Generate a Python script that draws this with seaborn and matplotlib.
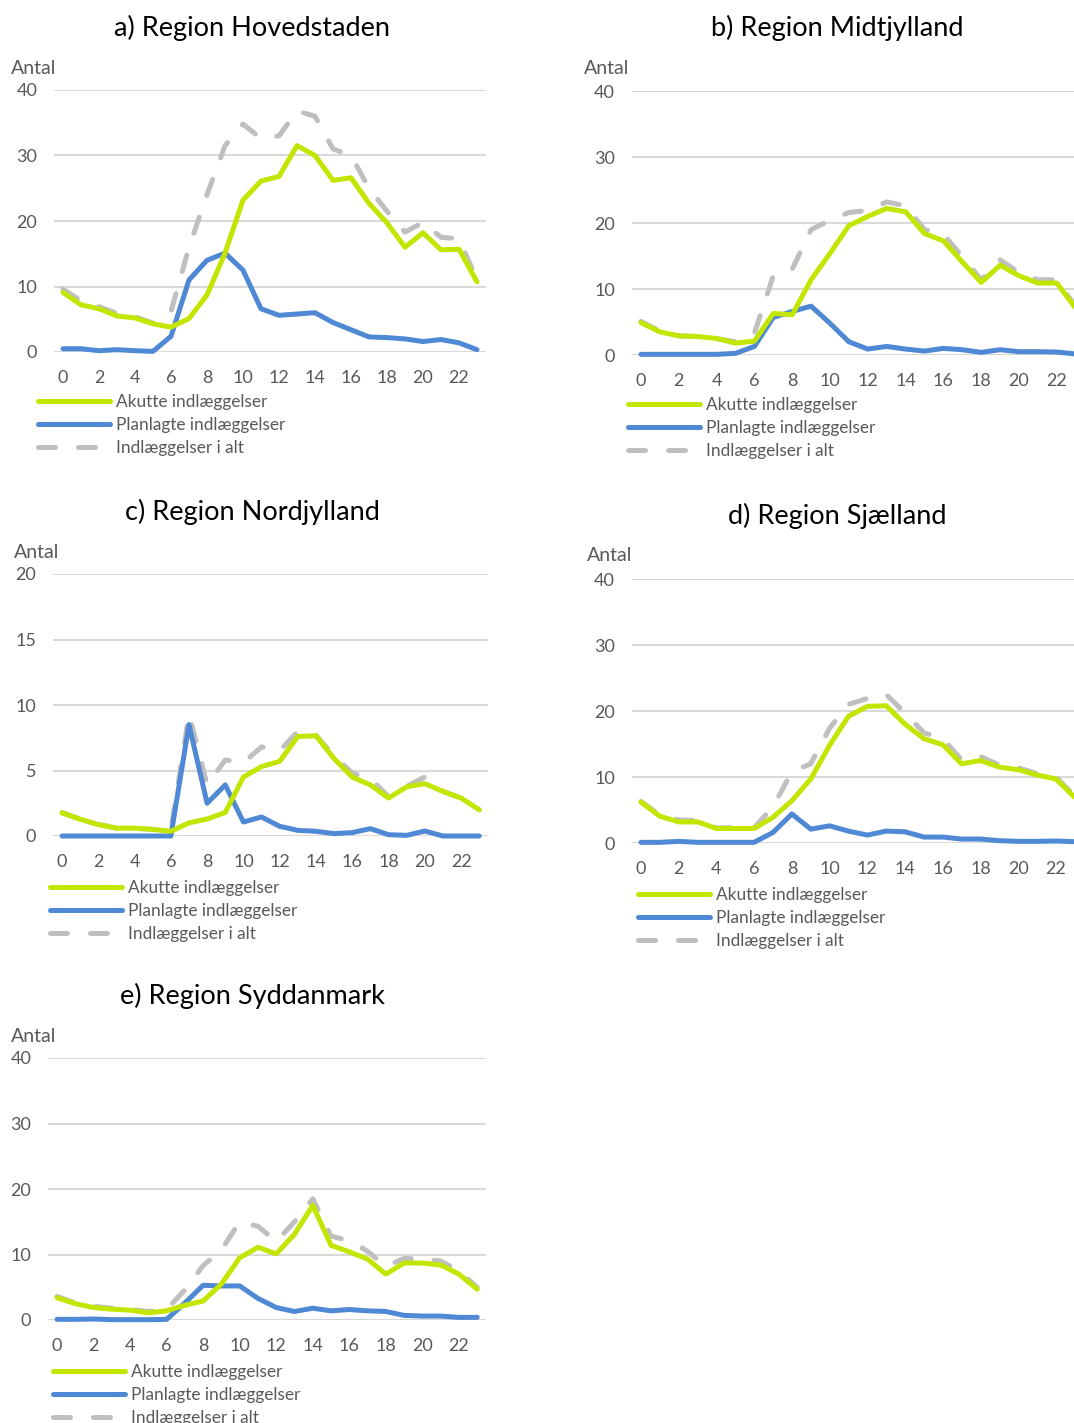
import numpy as np
import pandas as pd
import matplotlib
matplotlib.use("Agg")
import matplotlib.pyplot as plt
import seaborn as sns
from matplotlib.lines import Line2D

sns.set_theme(style="white")
plt.rcParams['font.family'] = ['Lato', 'DejaVu Sans']

hours = list(range(24))
hour_ticks = list(range(0, 23, 2))

series_names = ["Akutte indlæggelser", "Planlagte indlæggelser", "Indlæggelser i alt"]

titles = ["a) Region Hovedstaden", "b) Region Midtjylland", "c) Region Nordjylland",
          "d) Region Sjælland", "e) Region Syddanmark"]

# a) Hovedstaden
akut_a = [9.1, 7.2, 6.6, 5.5, 5.2, 4.3, 3.8, 5.1, 8.7, 15.1, 23.2, 26.1, 26.8, 31.5, 30.0, 26.2,
          26.6, 22.7, 19.7, 16.0, 18.2, 15.6, 15.7, 10.7]
plan_a = [0.5, 0.5, 0.2, 0.35, 0.2, 0.1, 2.4, 11.0, 14.0, 15.1, 12.5, 6.6, 5.6, 5.8, 6.0, 4.5,
          3.4, 2.3, 2.2, 2.0, 1.6, 1.9, 1.4, 0.35]
alt_a = [9.6, 7.8, 6.9, 5.9, 5.4, 4.4, 6.2, 16.0, 24.0, 31.5, 34.8, 32.6, 33.0, 36.8, 36.0, 31.0,
         30.0, 25.0, 21.5, 18.3, 19.8, 17.5, 17.3, 11.0]

# b) Midtjylland
akut_b = [4.9, 3.5, 2.9, 2.8, 2.5, 1.8, 2.1, 6.3, 6.1, 11.4, 15.4, 19.6, 21.0, 22.2, 21.7, 18.4,
          17.3, 14.1, 11.0, 13.6, 12.0, 10.9, 10.9, 7.1]
plan_b = [0.1, 0.1, 0.1, 0.1, 0.1, 0.25, 1.3, 5.7, 6.6, 7.4, 4.8, 2.0, 0.9, 1.3, 0.9, 0.6,
          1.0, 0.8, 0.4, 0.8, 0.5, 0.5, 0.45, 0.15]
alt_b = [5.1, 3.6, 2.9, 2.8, 2.5, 2.0, 3.3, 12.0, 13.0, 19.0, 20.4, 21.6, 21.9, 23.2, 22.6, 19.0,
         18.3, 14.9, 11.4, 14.4, 12.5, 11.4, 11.4, 7.3]

# c) Nordjylland
akut_c = [1.76, 1.28, 0.87, 0.6, 0.6, 0.5, 0.36, 1.0, 1.3, 1.8, 4.5, 5.3, 5.7, 7.6, 7.65, 5.9,
          4.5, 3.9, 2.9, 3.75, 4.0, 3.4, 2.9, 2.0]
plan_c = [0, 0, 0, 0, 0, 0, 0, 8.5, 2.5, 3.9, 1.07, 1.45, 0.74, 0.43, 0.36, 0.18,
          0.26, 0.56, 0.1, 0.05, 0.38, 0, 0, 0]
alt_c = [1.8, 1.3, 0.9, 0.6, 0.6, 0.5, 0.4, 9.3, 3.9, 5.8, 5.6, 6.8, 6.5, 8.0, 7.7, 6.1,
         4.8, 4.4, 3.0, 3.8, 4.5, 3.4, 2.9, 2.0]

# d) Sjælland
akut_d = [6.2, 4.05, 3.2, 3.2, 2.2, 2.2, 2.2, 3.9, 6.4, 9.7, 14.8, 19.2, 20.7, 20.8, 18.0, 15.8,
          14.9, 12.0, 12.5, 11.5, 11.1, 10.3, 9.7, 6.9]
plan_d = [0.1, 0.1, 0.25, 0.1, 0.1, 0.1, 0.1, 1.6, 4.4, 2.1, 2.6, 1.8, 1.2, 1.8, 1.7, 0.9,
          0.9, 0.6, 0.6, 0.35, 0.25, 0.25, 0.3, 0.2]
alt_d = [6.3, 4.2, 3.5, 3.4, 2.3, 2.3, 2.3, 5.5, 10.8, 12.0, 17.4, 21.0, 21.9, 22.5, 19.7, 16.7,
         15.8, 12.6, 13.1, 11.8, 11.4, 10.5, 10.0, 7.1]

# e) Syddanmark
akut_e = [3.4, 2.5, 1.9, 1.65, 1.5, 1.1, 1.4, 2.25, 2.9, 5.5, 9.5, 11.1, 10.1, 13.1, 17.5, 11.4,
          10.4, 9.3, 7.0, 8.7, 8.7, 8.4, 7.0, 4.7]
plan_e = [0.1, 0.1, 0.15, 0.05, 0.05, 0.05, 0.1, 2.6, 5.3, 5.2, 5.2, 3.3, 1.9, 1.3, 1.8, 1.4,
          1.6, 1.4, 1.3, 0.7, 0.6, 0.6, 0.4, 0.4]
alt_e = [3.6, 2.6, 2.1, 1.8, 1.6, 1.3, 1.6, 4.6, 8.3, 10.7, 15.0, 14.3, 12.0, 15.0, 18.5, 12.8,
         12.1, 10.5, 8.2, 9.4, 9.3, 9.0, 7.5, 5.0]

panel_data = [(akut_a, plan_a, alt_a), (akut_b, plan_b, alt_b), (akut_c, plan_c, alt_c),
              (akut_d, plan_d, alt_d), (akut_e, plan_e, alt_e)]
y_max = [40, 40, 20, 40, 40]
y_step = [10, 10, 5, 10, 10]

# ---- layout (pixels) ----
W, H = 1074, 1423
# (x of hour 0, px per hour, y pixel of 0, y pixel of ymax)
geo = [(63, 18.0, 352, 90), (641, 18.9, 355, 91), (62, 18.14, 836, 574),
       (641, 18.86, 843, 579), (57, 18.27, 1320, 1058)]
title_pos = [(252, 28), (837, 28), (252, 512), (837, 516), (252, 996)]
antal_pos = [(11, 68), (584, 69), (14, 553), (587, 556), (11, 1037)]
legend_pos = [(38, 394), (628, 397), (50, 880), (638, 887), (53, 1364)]

GREEN = "#C3E500"
BLUE = "#4F88D4"
GREY = "#BFBFBF"
TXT = "#595959"

fig = plt.figure(figsize=(W / 100, H / 100), dpi=100)

for i in range(5):
    x0, pph, y0p, ytp = geo[i]
    left = x0 - 0.5 * pph
    right = x0 + 23.5 * pph
    ax = fig.add_axes([left / W, 1 - y0p / H, (right - left) / W, (y0p - ytp) / H])
    akut, plan, alt = panel_data[i]
    df = pd.DataFrame({"time": hours, "akut": akut, "plan": plan, "alt": alt})
    sns.lineplot(data=df, x="time", y="alt", ax=ax, color=GREY, lw=3.6,
                 linestyle=(0, (3.4, 4.6)), dash_capstyle="round", clip_on=False, zorder=3)
    sns.lineplot(data=df, x="time", y="plan", ax=ax, color=BLUE, lw=3.6,
                 solid_capstyle="round", clip_on=False, zorder=4)
    sns.lineplot(data=df, x="time", y="akut", ax=ax, color=GREEN, lw=3.6,
                 solid_capstyle="round", clip_on=False, zorder=5)
    ax.set_xlim(-0.5, 23.5)
    ax.set_ylim(0, y_max[i])
    ax.set_xticks(hour_ticks)
    ax.set_yticks(np.arange(0, y_max[i] + 0.1, y_step[i]))
    ax.set_xlabel("")
    ax.set_ylabel("")
    for s in ax.spines.values():
        s.set_visible(False)
    ax.grid(axis="y", color="#D9D9D9", lw=1.5, zorder=0)
    ax.grid(axis="x", visible=False)
    ax.set_axisbelow(True)
    ax.tick_params(axis="both", length=0, labelsize=13, colors=TXT)
    ax.tick_params(axis="y", pad=12)
    ax.tick_params(axis="x", pad=13)
    if ax.get_legend() is not None:
        ax.get_legend().remove()

    tx, ty = title_pos[i]
    fig.text(tx / W, 1 - ty / H, titles[i], ha="center", va="center", fontsize=19.5, color="#000000")
    axp, ayp = antal_pos[i]
    fig.text(axp / W, 1 - ayp / H, "Antal", ha="left", va="center", fontsize=14, color=TXT)

    handles = [Line2D([], [], color=GREEN, lw=3.6, solid_capstyle="round"),
               Line2D([], [], color=BLUE, lw=3.6, solid_capstyle="round"),
               Line2D([], [], color=GREY, lw=3.6, linestyle=(0, (3.4, 4.6)), dash_capstyle="round")]
    lx, ly = legend_pos[i]
    fig.legend(handles, series_names, loc="upper left",
               bbox_to_anchor=(lx / W, 1 - ly / H), bbox_transform=fig.transFigure,
               frameon=False, fontsize=12.4, labelcolor=TXT, handlelength=4.2,
               handletextpad=0.35, labelspacing=0.4, borderpad=0, borderaxespad=0)

fig.savefig("out.png", dpi=100)
